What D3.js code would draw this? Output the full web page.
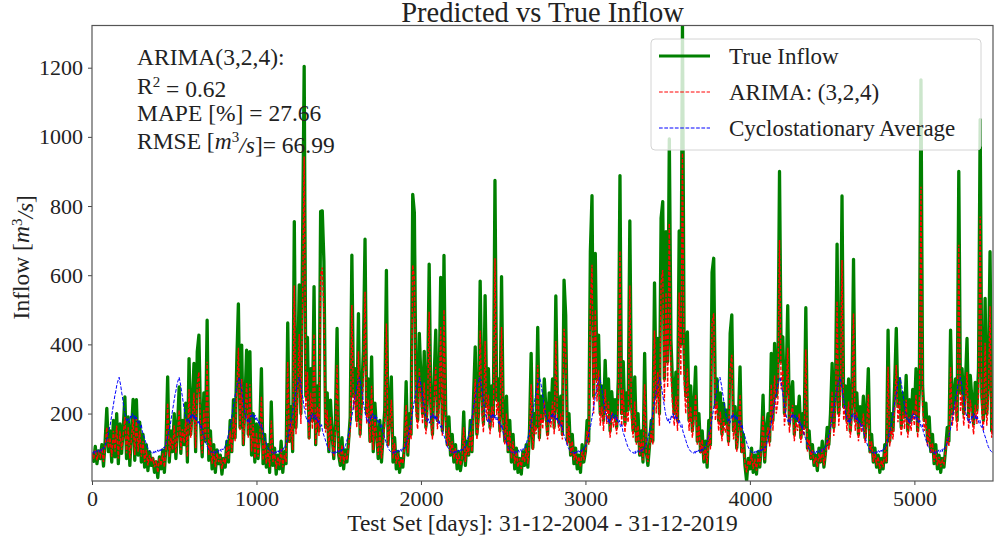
<!DOCTYPE html>
<html>
<head>
<meta charset="utf-8">
<script src="https://cdn.jsdelivr.net/npm/d3@7"></script>
<style>
  body { margin: 0; background: #fff; }
  text { font-family: "Liberation Serif", "Times New Roman", serif; fill: #222; }
</style>
</head>
<body>
<div class="d3-container"></div>
<script>
// one sample every 10 days, day 0 = 31-12-2004
const step = 10;

// True inflow [m3/s] (10 values per row = 100 days)
const trueInflow = [
  80, 62, 105, 55, 92, 70, 110, 48, 120, 215,
  90, 150, 60, 180, 75, 200, 55, 170, 85, 160,
  248, 70, 190, 50, 150, 241, 65, 240, 80, 175,
  60, 140, 45, 110, 35, 90, 50, 70, 30, 60,
  15, 75, 40, 95, 30, 110, 306, 60, 150, 90,
  200, 70, 160, 277, 85, 180, 110, 230, 60, 359,
  140, 220, 345, 90, 379, 427, 180, 75, 260, 120,
  470, 65, 150, 40, 110, 30, 95, 55, 80, 25,
  70, 45, 120, 60, 180, 90, 240, 130, 343, 517,
  160, 398, 110, 230, 383, 140, 379, 80, 200, 60,
  170, 70, 150, 330, 55, 140, 45, 110, 30, 234,
  50, 100, 25, 80, 40, 120, 30, 90, 55, 462,
  120, 220, 90, 755, 160, 300, 572, 200, 683, 1204,
  250, 420, 130, 330, 180, 567, 110, 280, 150, 784,
  786, 640, 160, 260, 90, 239, 140, 70, 180, 446,
  80, 50, 130, 40, 95, 60, 120, 190, 658, 250,
  330, 180, 489, 140, 260, 380, 704, 200, 300, 120,
  364, 90, 230, 150, 70, 180, 60, 140, 210, 614,
  110, 200, 306, 60, 130, 40, 90, 30, 70, 45,
  110, 292, 80, 200, 140, 834, 780, 250, 180, 432,
  300, 200, 380, 160, 250, 632, 220, 140, 300, 441,
  180, 260, 594, 150, 657, 210, 110, 190, 80, 140,
  60, 110, 40, 90, 35, 70, 205, 50, 120, 80,
  180, 90, 250, 393, 140, 200, 583, 260, 170, 541,
  220, 330, 160, 280, 190, 874, 240, 300, 150, 596,
  200, 120, 250, 90, 180, 60, 140, 40, 100, 30,
  70, 25, 90, 50, 110, 45, 150, 374, 100, 200,
  160, 449, 130, 250, 180, 300, 210, 140, 260, 190,
  300, 160, 540, 220, 170, 250, 140, 586, 485, 120,
  200, 80, 140, 55, 100, 40, 80, 30, 110, 60,
  90, 180, 120, 668, 830, 250, 663, 300, 427, 200,
  280, 180, 354, 210, 300, 150, 263, 190, 240, 160,
  300, 888, 200, 350, 170, 260, 210, 757, 230, 150,
  306, 120, 200, 80, 150, 60, 374, 90, 50, 110,
  180, 120, 578, 250, 417, 200, 765, 813, 300, 726,
  350, 994, 412, 280, 200, 320, 180, 728, 400, 1322,
  380, 250, 436, 180, 280, 150, 220, 335, 120, 200,
  90, 150, 60, 120, 45, 180, 110, 608, 649, 220,
  300, 180, 260, 140, 230, 170, 210, 120, 432, 485,
  150, 220, 100, 180, 335, 90, 140, 50, 5, 70,
  40, 100, 30, 80, 25, 90, 45, 110, 253, 60,
  150, 200, 120, 374, 180, 403, 250, 300, 900, 350,
  422, 200, 280, 512, 170, 250, 292, 140, 220, 180,
  250, 130, 200, 160, 506, 100, 150, 70, 110, 50,
  80, 35, 100, 60, 120, 45, 90, 160, 110, 200,
  345, 160, 250, 690, 200, 300, 829, 220, 280, 180,
  300, 150, 230, 646, 180, 260, 140, 220, 170, 250,
  130, 200, 330, 90, 140, 60, 100, 45, 80, 30,
  70, 40, 110, 60, 441, 120, 200, 150, 280, 446,
  220, 300, 160, 260, 190, 310, 150, 240, 180, 270,
  200, 330, 150, 260, 1165, 280, 180, 230, 120, 190,
  90, 140, 55, 110, 40, 80, 30, 70, 45, 100,
  160, 120, 441, 200, 250, 300, 180, 900, 260, 330,
  200, 280, 417, 190, 310, 240, 170, 290, 210, 330,
  1050, 250, 180, 533, 200, 300, 668, 150, 180
];

// ARIMA(3,2,4) prediction, same sampling
const arima = [
  85, 70, 95, 65, 88, 75, 100, 60, 105, 160,
  100, 130, 75, 150, 90, 165, 70, 150, 95, 140,
  190, 85, 160, 70, 130, 185, 80, 185, 90, 150,
  75, 120, 60, 95, 50, 80, 60, 70, 45, 65,
  30, 70, 50, 85, 45, 95, 230, 75, 130, 95,
  165, 85, 140, 210, 95, 155, 115, 185, 75, 270,
  130, 180, 260, 100, 285, 320, 160, 85, 210, 120,
  350, 80, 130, 55, 95, 45, 85, 60, 75, 40,
  70, 55, 105, 70, 150, 90, 190, 120, 260, 390,
  150, 300, 110, 190, 290, 130, 285, 90, 170, 70,
  145, 75, 130, 250, 65, 120, 55, 95, 45, 180,
  60, 90, 40, 75, 50, 100, 45, 80, 60, 350,
  115, 180, 95, 570, 140, 240, 430, 170, 515, 943,
  210, 320, 125, 260, 155, 430, 110, 220, 135, 600,
  622, 490, 145, 210, 95, 190, 125, 75, 150, 340,
  85, 60, 110, 55, 85, 65, 105, 155, 514, 210,
  260, 160, 380, 130, 210, 290, 552, 170, 240, 115,
  280, 95, 185, 135, 80, 150, 70, 120, 170, 460,
  105, 165, 240, 70, 115, 55, 85, 45, 70, 55,
  100, 225, 85, 165, 125, 630, 590, 200, 155, 330,
  240, 170, 290, 140, 200, 494, 185, 125, 240, 335,
  155, 205, 450, 135, 500, 175, 105, 160, 85, 120,
  70, 100, 55, 85, 50, 70, 160, 60, 105, 80,
  150, 90, 200, 300, 125, 165, 440, 205, 145, 410,
  180, 255, 140, 220, 160, 649, 195, 235, 130, 450,
  165, 110, 200, 90, 150, 70, 120, 55, 90, 45,
  70, 40, 85, 60, 100, 55, 130, 285, 95, 165,
  140, 340, 120, 200, 155, 235, 175, 125, 205, 160,
  235, 140, 410, 180, 150, 200, 125, 445, 370, 110,
  165, 80, 120, 65, 90, 55, 75, 45, 95, 65,
  85, 150, 110, 505, 630, 200, 500, 235, 325, 165,
  220, 150, 270, 170, 235, 130, 205, 160, 190, 140,
  235, 670, 165, 270, 145, 205, 175, 570, 185, 130,
  235, 110, 165, 80, 125, 65, 285, 85, 60, 100,
  150, 110, 440, 200, 320, 165, 580, 615, 235, 550,
  275, 750, 315, 220, 165, 250, 150, 550, 310, 953,
  300, 200, 330, 150, 220, 130, 180, 255, 110, 165,
  85, 125, 65, 105, 55, 145, 95, 460, 490, 180,
  235, 150, 205, 120, 185, 145, 170, 105, 330, 370,
  125, 175, 90, 150, 255, 85, 115, 55, 30, 65,
  50, 85, 40, 70, 35, 80, 50, 95, 195, 65,
  125, 160, 105, 285, 150, 310, 200, 235, 702, 270,
  325, 165, 220, 390, 145, 200, 225, 120, 175, 150,
  200, 115, 160, 135, 385, 90, 125, 70, 95, 55,
  75, 45, 85, 60, 100, 50, 80, 130, 95, 160,
  265, 135, 200, 525, 165, 235, 644, 180, 220, 150,
  235, 130, 185, 490, 150, 205, 120, 175, 145, 200,
  115, 160, 255, 85, 120, 60, 90, 50, 75, 40,
  65, 45, 95, 60, 335, 105, 160, 125, 215, 340,
  175, 235, 135, 205, 155, 240, 130, 190, 150, 210,
  165, 255, 130, 205, 856, 220, 150, 185, 105, 155,
  85, 115, 60, 95, 50, 75, 45, 65, 55, 90,
  130, 105, 335, 165, 200, 235, 150, 688, 205, 255,
  165, 220, 320, 155, 240, 190, 140, 225, 170, 255,
  770, 200, 150, 405, 165, 235, 510, 130, 170
];

// cyclostationary average: one value per 5 days of the year, same every year
const cycloStep = 5;
const cycloProfile = [
  88, 85, 90, 84, 92, 87, 90, 95, 88, 92,
  96, 90, 98, 95, 102, 100, 108, 115, 125, 132,
  145, 155, 165, 180, 195, 210, 225, 240, 255, 265,
  280, 290, 298, 305, 292, 280, 262, 248, 230, 215,
  200, 190, 182, 176, 185, 172, 180, 195, 188, 200,
  192, 185, 196, 182, 190, 178, 172, 180, 165, 160,
  168, 150, 142, 135, 128, 120, 112, 105, 100, 96,
  92, 90, 88
];
const nYears = 15;

const xTicks = [0, 1000, 2000, 3000, 4000, 5000];
const yTicks = [200, 400, 600, 800, 1000, 1200];
const xMax = 5478;

const width = 994;
const height = 546;
const margin = {top: 25.5, bottom: 65, left: 92, right: 1};

const svg = d3.select(".d3-container")
  .append("svg")
  .attr("width", width)
  .attr("height", height);

// build point tables
const trueData = trueInflow.map((v, i) => ({day: i * step, value: v}));
const arimaData = arima.map((v, i) => ({day: i * step, value: v}));
const cycloData = [];
for (let y = 0; y < nYears; y++) {
  const start = Math.round(y * 365.25);
  cycloProfile.forEach((v, j) => cycloData.push({day: start + j * cycloStep, value: v}));
}

const x = d3.scaleLinear()
  .domain([0, xMax])
  .range([margin.left, width - margin.right]);

const y = d3.scaleLinear()
  .domain(d3.extent(trueInflow))
  .range([height - margin.bottom, margin.top]);

svg.append("clipPath").attr("id", "plot-clip")
  .append("rect")
  .attr("x", x(0)).attr("y", margin.top)
  .attr("width", x(xMax) - x(0))
  .attr("height", height - margin.bottom - margin.top);

const line = d3.line().x(d => x(d.day)).y(d => y(d.value));

const plot = svg.append("g").attr("clip-path", "url(#plot-clip)");

plot.append("path")
  .datum(trueData)
  .attr("fill", "none")
  .attr("stroke", "#008000")
  .attr("stroke-width", 3.3)
  .attr("stroke-linejoin", "round")
  .attr("d", line);

plot.append("path")
  .datum(arimaData)
  .attr("fill", "none")
  .attr("stroke", "#ff0000")
  .attr("stroke-width", 1.4)
  .attr("stroke-dasharray", "3.7,1.6")
  .attr("d", line);

plot.append("path")
  .datum(cycloData)
  .attr("fill", "none")
  .attr("stroke", "#0000ff")
  .attr("stroke-width", 1)
  .attr("stroke-dasharray", "3.7,1.6")
  .attr("d", line);

// axes
const xAxis = svg.append("g")
  .attr("transform", `translate(0, ${height - margin.bottom})`)
  .call(d3.axisBottom(x).tickValues(xTicks).tickSize(4).tickPadding(5).tickFormat(d3.format("d")));

const yAxis = svg.append("g")
  .attr("transform", `translate(${margin.left}, 0)`)
  .call(d3.axisLeft(y).tickValues(yTicks).tickSize(4).tickPadding(5).tickFormat(d3.format("d")));

[xAxis, yAxis].forEach(g => {
  g.select(".domain").remove();
  g.selectAll(".tick line").attr("stroke", "#444");
  g.selectAll(".tick text").style("font-size", "22px").attr("fill", "#222");
});

// frame
svg.append("rect")
  .attr("x", x(0)).attr("y", margin.top)
  .attr("width", x(xMax) - x(0))
  .attr("height", height - margin.bottom - margin.top)
  .attr("fill", "none")
  .attr("stroke", "#555")
  .attr("stroke-width", 1.2);

// title and labels
svg.append("text")
  .attr("x", (x(0) + x(xMax)) / 2).attr("y", 22)
  .attr("text-anchor", "middle")
  .style("font-size", "28.5px")
  .text("Predicted vs True Inflow");

svg.append("text")
  .attr("x", (x(0) + x(xMax)) / 2).attr("y", 531)
  .attr("text-anchor", "middle")
  .style("font-size", "23.5px")
  .text("Test Set [days]: 31-12-2004 - 31-12-2019");

const ylab = svg.append("text")
  .attr("transform", `translate(29, ${(margin.top + height - margin.bottom) / 2 + 4}) rotate(-90)`)
  .attr("text-anchor", "middle")
  .style("font-size", "23.5px");
ylab.append("tspan").text("Inflow [");
ylab.append("tspan").style("font-style", "italic").text("m");
ylab.append("tspan").attr("dy", "-0.45em").style("font-size", "15px").text("3");
ylab.append("tspan").attr("dy", "0.45em").style("font-style", "italic").text("/s");
ylab.append("tspan").text("]");

// metrics box
const info = svg.append("g").style("font-size", "23.5px");
info.append("text").attr("x", 137).attr("y", 65).text("ARIMA(3,2,4):");
const r2 = info.append("text").attr("x", 137).attr("y", 93.5);
r2.append("tspan").text("R");
r2.append("tspan").attr("dy", "-0.45em").style("font-size", "15px").text("2");
r2.append("tspan").attr("dy", "0.45em").text(" = 0.62");
info.append("text").attr("x", 137).attr("y", 121).text("MAPE [%] = 27.66");
const rm = info.append("text").attr("x", 137).attr("y", 149);
rm.append("tspan").text("RMSE [");
rm.append("tspan").style("font-style", "italic").text("m");
rm.append("tspan").attr("dy", "-0.45em").style("font-size", "15px").text("3");
rm.append("tspan").attr("dy", "0.45em").style("font-style", "italic").text("/s");
rm.append("tspan").text("]= 66.99");

// legend
const legendItems = [
  {label: "True Inflow", color: "#008000", width: 3, dash: null},
  {label: "ARIMA: (3,2,4)", color: "#ff0000", width: 1, dash: "3.7,1.6"},
  {label: "Cyclostationary Average", color: "#0000ff", width: 1, dash: "3.7,1.6"}
];
const legend = svg.append("g");
legend.append("rect")
  .attr("x", 651).attr("y", 39)
  .attr("width", 330).attr("height", 111)
  .attr("rx", 4)
  .attr("fill", "rgba(255,255,255,0.8)")
  .attr("stroke", "#d4d4d4");
legendItems.forEach((d, i) => {
  const cy = 56 + i * 36;
  legend.append("line")
    .attr("x1", 659).attr("x2", 710)
    .attr("y1", cy).attr("y2", cy)
    .attr("stroke", d.color)
    .attr("stroke-width", d.width)
    .attr("stroke-dasharray", d.dash);
  legend.append("text")
    .attr("x", 729).attr("y", cy + 8)
    .style("font-size", "23px")
    .text(d.label);
});
</script>
</body>
</html>
